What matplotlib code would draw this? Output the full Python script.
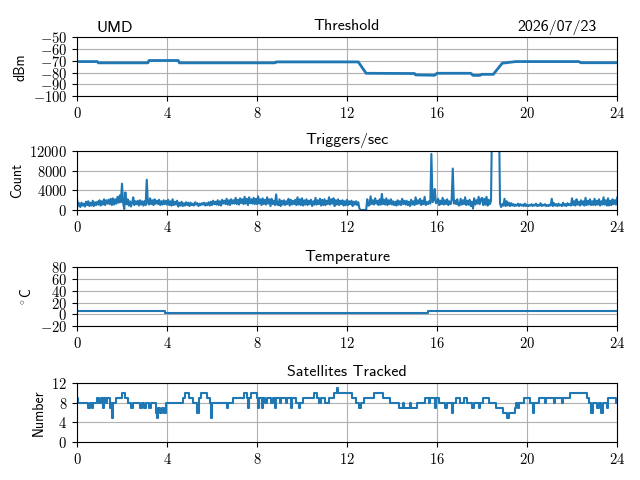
import numpy as np
import matplotlib
matplotlib.use("Agg")
import matplotlib.pyplot as plt
from matplotlib.ticker import FuncFormatter

plt.rcParams["font.family"] = "cmss10"
plt.rcParams["mathtext.fontset"] = "cm"
plt.rcParams["axes.unicode_minus"] = False
plt.rcParams["font.size"] = 10

# threshold (dBm), piecewise levels
thr_t = [0, 0.9, 0.95, 3.15, 3.2, 4.5, 4.55, 8.8, 8.85, 12.5, 12.85, 15.0, 15.05,
         15.9, 16.0, 17.5, 17.6, 17.9, 18.0, 18.5, 18.9, 19.5, 22.3, 22.4, 24]
thr_v = [-70.6, -70.6, -71.7, -71.7, -69.7, -69.7, -71.7, -71.7, -70.9, -70.9,
         -80.6, -80.8, -82.0, -82.3, -80.6, -80.6, -82.4, -82.4, -81.5, -81.5,
         -72.0, -70.6, -70.6, -71.6, -71.6]

# triggers/sec, one value every 3 minutes (one row per hour)
trig = [
    2300, 800, 1400, 600, 1500, 900, 1300, 700, 1700, 1000, 1800, 800, 1500, 900, 1900, 800, 1600, 1000, 1700, 1100,
    2000, 900, 1800, 1100, 2200, 1000, 2000, 1300, 2100, 1200, 2300, 1000, 2400, 1100, 2200, 1300, 2700, 1500, 3000, 1600,
    5400, 1500, 200, 3600, 1200, 2200, 900, 1800, 700, 1500, 2600, 1000, 1800, 1200, 1900, 900, 2000, 1100, 1800, 900,
    1800, 1000, 6200, 1500, 1100, 2400, 1200, 2000, 1000, 2200, 1300, 1900, 1200, 2100, 1000, 1800, 1100, 2000, 1200, 1900,
    1100, 2100, 1000, 1800, 900, 2200, 1000, 1700, 1100, 1900, 700, 1500, 900, 1700, 800, 1400, 900, 1600, 1000, 1500,
    800, 1500, 1000, 1300, 900, 1600, 1100, 1400, 800, 1300, 1000, 1400, 1100, 1500, 900, 1400, 1000, 1600, 900, 1700,
    1000, 1900, 1200, 1700, 1100, 2000, 1000, 1800, 900, 2100, 1300, 1900, 1200, 2300, 1100, 2000, 1000, 2200, 1300, 2000,
    1300, 2500, 1200, 2100, 1100, 2400, 1400, 2200, 1200, 2700, 1300, 2300, 1000, 2600, 1400, 2200, 1300, 2500, 1200, 2300,
    1200, 2800, 1300, 2200, 1000, 2400, 1200, 2100, 1100, 2600, 1300, 2200, 800, 2300, 1200, 1900, 1000, 3200, 1100, 1000,
    2200, 800, 1900, 1100, 2000, 1000, 1800, 1200, 2300, 900, 2100, 1100, 1900, 1200, 2100, 1000, 2600, 1100, 2200, 1000,
    2400, 900, 2000, 1100, 2200, 1000, 1900, 1200, 2100, 800, 1800, 1100, 2500, 1100, 2000, 1200, 2300, 900, 2100, 1000,
    2200, 1000, 1900, 1200, 2600, 1100, 2200, 1300, 2400, 800, 2000, 1100, 2200, 1000, 1900, 1200, 2000, 900, 1800, 1000,
    2100, 1000, 1800, 1200, 1900, 800, 1700, 1100, 1800, 1000, 1600, 300, 0, 0, 0, 0, 0, 0, 2200, 900,
    1000, 2800, 1200, 2000, 1100, 2400, 1300, 1900, 1000, 2200, 1100, 3300, 1200, 2100, 1100, 2400, 1000, 2000, 1200, 2200,
    1100, 1800, 1000, 1700, 900, 2000, 1100, 1800, 1000, 2300, 1200, 1900, 1100, 1900, 1000, 1700, 800, 2100, 1100, 1800,
    1000, 2600, 1200, 2000, 1300, 2300, 1000, 1900, 1200, 2700, 1000, 1600, 1200, 1800, 1300, 11500, 1600, 2000, 4300, 1400,
    1500, 2300, 1000, 1900, 1200, 2500, 1100, 2000, 1200, 2200, 1000, 1800, 1200, 2000, 8500, 1300, 1900, 1200, 2200, 1000,
    900, 2300, 1100, 2000, 1200, 2600, 1000, 1900, 1100, 2100, 800, 1700, 300, 2400, 1100, 2000, 1300, 2700, 1200, 2200,
    2500, 1000, 2300, 1100, 2700, 900, 2100, 1200, 1900, 20000, 20000, 20000, 20000, 20000, 20000, 20000, 1300, 600, 1200, 900,
    2300, 800, 1800, 900, 1500, 800, 1400, 900, 1200, 800, 1100, 900, 1300, 800, 1200, 900, 1100, 800, 1300, 800,
    1100, 800, 1000, 900, 1200, 800, 1100, 900, 1300, 800, 1000, 900, 1400, 800, 1100, 900, 1200, 800, 1000, 800,
    1100, 900, 2300, 800, 1400, 900, 1200, 800, 1300, 900, 1100, 800, 1500, 900, 1200, 800, 1400, 1000, 1200, 900,
    2400, 1000, 1800, 900, 2200, 1100, 1700, 900, 2000, 1100, 1800, 900, 2500, 1000, 1900, 1100, 2200, 1000, 1800, 1000,
    2300, 1000, 1900, 1100, 2200, 900, 1800, 1100, 2600, 1100, 2000, 900, 2400, 900, 1900, 1000, 2200, 1200, 2000, 1100,
    2500,
]
trig_t = np.arange(len(trig)) * 0.05

# temperature (deg C)
temp_t = [0, 3.9, 15.6, 24]
temp_v = [5, 3, 5, 5]

# satellites tracked, step changes
sat_t = [0.00, 0.05, 0.50, 0.60, 0.65, 0.70, 0.90, 1.00, 1.05, 1.15, 1.20, 1.30,
         1.35, 1.45, 1.50, 1.55, 1.62, 1.75, 2.00, 2.15, 2.28, 2.40, 2.48, 2.80,
         2.88, 3.00, 3.05, 3.20, 3.28, 3.50, 3.57, 3.62, 3.70, 3.80, 3.85, 3.95,
         4.70, 4.80, 5.00, 5.15, 5.35, 5.42, 5.50, 5.80, 5.90, 5.97, 6.02, 6.65,
         6.72, 6.95, 7.40, 7.55, 7.60, 7.65, 7.75, 8.00, 8.05, 8.10, 8.20, 8.25,
         8.35, 8.45, 8.60, 8.70, 8.80, 8.85, 9.00, 9.05, 9.30, 9.35, 9.50, 9.55,
         9.75, 9.85, 9.90, 10.05, 10.55, 10.65, 10.75, 10.85, 11.00, 11.20, 11.40,
         11.55, 11.62, 12.20, 12.40, 12.55, 12.62, 12.75, 13.20, 13.60, 13.90,
         14.30, 14.50, 14.55, 14.80, 14.85, 15.10, 15.45, 15.65, 15.70, 15.90,
         15.95, 16.10, 16.35, 16.45, 16.65, 16.72, 16.85, 17.00, 17.20, 17.35,
         17.55, 17.65, 17.85, 17.92, 18.05, 18.30, 18.60, 18.95, 19.10, 19.20,
         19.45, 19.50, 19.60, 19.65, 19.85, 20.15, 20.25, 20.32, 20.55, 20.80,
         20.85, 21.20, 21.25, 21.55, 21.60, 21.90, 22.65, 22.75, 22.85, 22.92,
         23.10, 23.20, 23.30, 23.38, 23.55, 23.60, 23.95, 24.00]
sat_v = [9, 8, 7, 8, 7, 8, 9, 8, 9, 7, 9, 8,
         9, 7, 8, 5, 8, 9, 10, 9, 8, 7, 8, 7,
         8, 7, 8, 7, 8, 6, 5, 7, 6, 7, 6, 8,
         9, 10, 9, 8, 6, 9, 10, 9, 8, 5, 8, 7,
         8, 9, 10, 9, 7, 9, 10, 9, 7, 9, 7, 9,
         8, 9, 8, 9, 7, 9, 8, 9, 8, 9, 7, 9,
         8, 7, 8, 9, 10, 9, 8, 9, 8, 9, 10,
         11, 10, 9, 8, 7, 8, 9, 10, 9, 8,
         7, 8, 7, 8, 7, 8, 9, 8, 9, 7,
         9, 8, 7, 8, 6, 8, 9, 8, 9, 8,
         7, 8, 7, 8, 9, 8, 7, 6, 5, 6,
         7, 8, 7, 8, 9, 8, 6, 8, 9, 8,
         9, 8, 9, 8, 9, 10, 9, 8, 6, 8,
         7, 8, 6, 8, 7, 9, 8, 8]

xticks = [0, 4, 8, 12, 16, 20, 24]


def _math_fmt(v, pos):
    return f"${v:.0f}$"


def _setup(ax, title, ylabel, ylim, yticks):
    ax.set_title(title, fontsize=11.5, pad=5)
    ax.set_ylabel(ylabel, fontsize=10)
    ax.set_xlim(0, 24)
    ax.set_ylim(ylim)
    ax.set_xticks(xticks)
    ax.set_yticks(yticks)
    ax.xaxis.set_major_formatter(FuncFormatter(_math_fmt))
    ax.yaxis.set_major_formatter(FuncFormatter(_math_fmt))
    ax.tick_params(labelsize=10.5)
    ax.grid(True)
    ax.set_axisbelow(True)


fig = plt.figure(figsize=(6.4, 4.8), dpi=100)
left, width, h = 0.1203, 0.8438, 0.122
bottoms = [0.800, 0.5625, 0.3208, 0.0792]
axes = [fig.add_axes([left, b, width, h]) for b in bottoms]

ax = axes[0]
ax.plot(thr_t, thr_v, lw=2.0)
_setup(ax, "Threshold", "dBm", (-100, -50), [-100, -90, -80, -70, -60, -50])
ax.text(0.037, 1.05, "UMD", transform=ax.transAxes, fontsize=11.5, ha="left", va="bottom")
ax.text(0.963, 1.05, "2026/07/23", transform=ax.transAxes, fontsize=11.5, ha="right", va="bottom")

ax = axes[1]
ax.plot(trig_t, trig, lw=1.5)
_setup(ax, "Triggers/sec", "Count", (0, 12000), [0, 4000, 8000, 12000])

ax = axes[2]
ax.plot(temp_t, temp_v, lw=1.5, drawstyle="steps-post")
_setup(ax, "Temperature", r"$^\circ$C", (-20, 80), [-20, 0, 20, 40, 60, 80])

ax = axes[3]
ax.plot(sat_t, sat_v, lw=1.5, drawstyle="steps-post")
_setup(ax, "Satellites Tracked", "Number", (0, 12), [0, 4, 8, 12])

fig.savefig("out.png", dpi=100)
